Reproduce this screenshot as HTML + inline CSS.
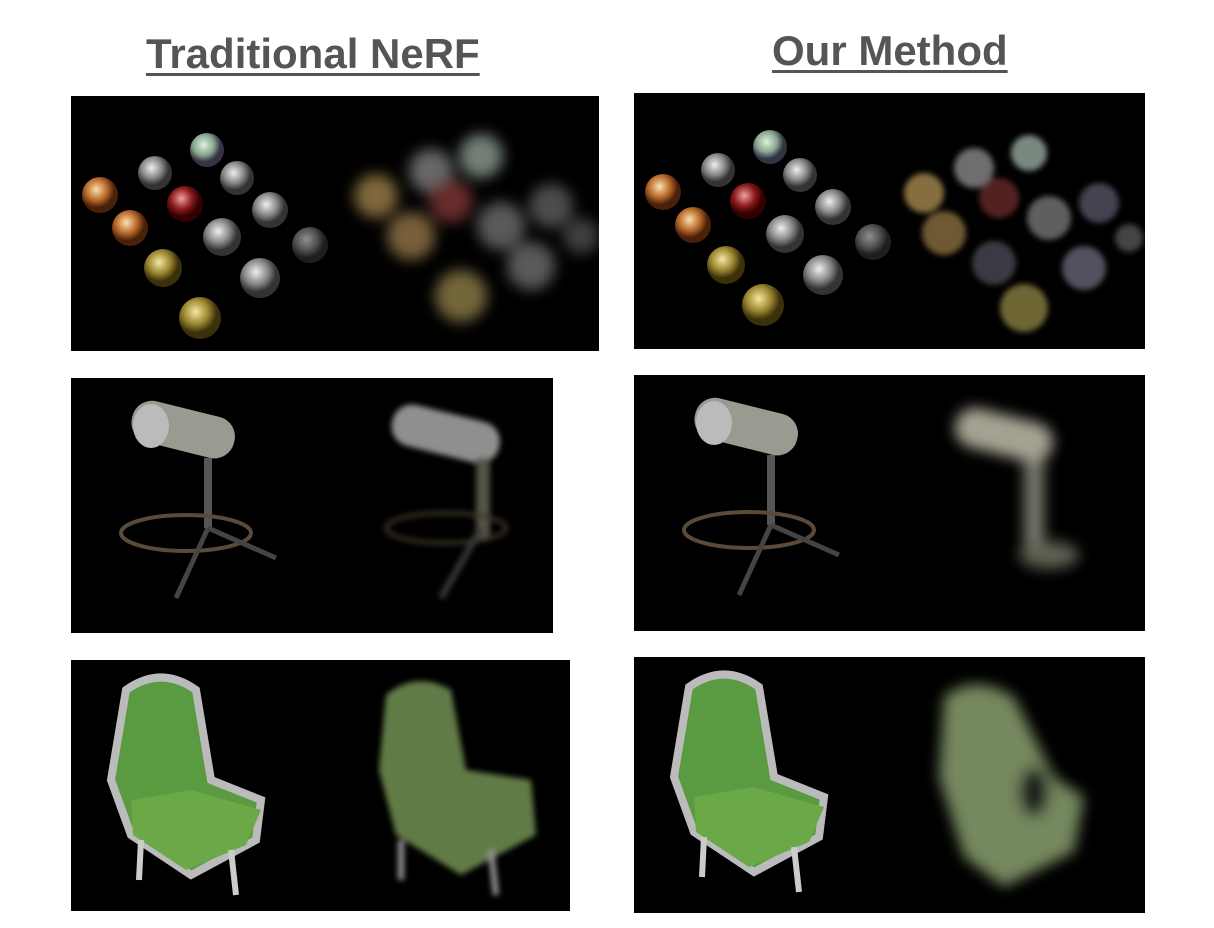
<!DOCTYPE html>
<html><head><meta charset="utf-8">
<style>
body{margin:0;width:1214px;height:928px;background:#fff;overflow:hidden;font-family:"Liberation Sans",sans-serif;position:relative}
.t{position:absolute;font-weight:bold;font-size:42px;color:#555;text-decoration:underline;text-decoration-thickness:3px;text-underline-offset:5px;white-space:nowrap}
.p{position:absolute;background:#000}
svg{display:block}
</style></head><body>
<div class="t" style="left:146px;top:30px">Traditional NeRF</div>
<div class="t" style="left:772px;top:27px">Our Method</div>

<svg width="0" height="0" style="position:absolute">
<defs>
<radialGradient id="gs" cx="40%" cy="35%"><stop offset="0" stop-color="#eee"/><stop offset=".6" stop-color="#888"/><stop offset="1" stop-color="#333"/></radialGradient>
<radialGradient id="gc" cx="40%" cy="35%"><stop offset="0" stop-color="#fde0b0"/><stop offset=".6" stop-color="#b86a2a"/><stop offset="1" stop-color="#4a2008"/></radialGradient>
<radialGradient id="gg" cx="40%" cy="35%"><stop offset="0" stop-color="#f4e8a0"/><stop offset=".6" stop-color="#9a8530"/><stop offset="1" stop-color="#3a300a"/></radialGradient>
<radialGradient id="gr" cx="40%" cy="35%"><stop offset="0" stop-color="#f0a0a0"/><stop offset=".6" stop-color="#8a1a1a"/><stop offset="1" stop-color="#300"/></radialGradient>
<radialGradient id="gn" cx="40%" cy="35%"><stop offset="0" stop-color="#e0f0e0"/><stop offset=".6" stop-color="#8aa890"/><stop offset="1" stop-color="#334"/></radialGradient>
<filter id="bl"><feGaussianBlur stdDeviation="7"/></filter>
<filter id="bl2"><feGaussianBlur stdDeviation="3"/></filter>
</defs></svg>

<div class="p" style="left:71px;top:96px;width:528px;height:255px">
<svg width="528" height="255">
<g>
<circle cx="29" cy="99" r="18" fill="url(#gc)"/><circle cx="84" cy="77" r="17" fill="url(#gs)"/>
<circle cx="136" cy="54" r="17" fill="url(#gn)"/><circle cx="166" cy="82" r="17" fill="url(#gs)"/>
<circle cx="114" cy="108" r="18" fill="url(#gr)"/><circle cx="59" cy="132" r="18" fill="url(#gc)"/>
<circle cx="199" cy="114" r="18" fill="url(#gs)"/><circle cx="151" cy="141" r="19" fill="url(#gs)"/>
<circle cx="239" cy="149" r="18" fill="url(#gs)" opacity=".6"/><circle cx="92" cy="172" r="19" fill="url(#gg)"/>
<circle cx="189" cy="182" r="20" fill="url(#gs)"/><circle cx="129" cy="222" r="21" fill="url(#gg)"/>
</g>
<g filter="url(#bl)" opacity=".75">
<circle cx="305" cy="100" r="22" fill="#a98a50"/><circle cx="360" cy="75" r="22" fill="#8a8a8a"/>
<circle cx="410" cy="60" r="22" fill="#9aaaa0"/><circle cx="380" cy="105" r="22" fill="#8a3a3a"/>
<circle cx="340" cy="140" r="24" fill="#a08050"/><circle cx="430" cy="130" r="24" fill="#777"/>
<circle cx="480" cy="110" r="22" fill="#666"/><circle cx="460" cy="170" r="24" fill="#777"/>
<circle cx="390" cy="200" r="26" fill="#9a8850"/><circle cx="510" cy="140" r="18" fill="#555"/>
</g></svg></div>

<div class="p" style="left:634px;top:93px;width:511px;height:256px">
<svg width="511" height="256">
<g>
<circle cx="29" cy="99" r="18" fill="url(#gc)"/><circle cx="84" cy="77" r="17" fill="url(#gs)"/>
<circle cx="136" cy="54" r="17" fill="url(#gn)"/><circle cx="166" cy="82" r="17" fill="url(#gs)"/>
<circle cx="114" cy="108" r="18" fill="url(#gr)"/><circle cx="59" cy="132" r="18" fill="url(#gc)"/>
<circle cx="199" cy="114" r="18" fill="url(#gs)"/><circle cx="151" cy="141" r="19" fill="url(#gs)"/>
<circle cx="239" cy="149" r="18" fill="url(#gs)" opacity=".6"/><circle cx="92" cy="172" r="19" fill="url(#gg)"/>
<circle cx="189" cy="182" r="20" fill="url(#gs)"/><circle cx="129" cy="212" r="21" fill="url(#gg)"/>
</g>
<g filter="url(#bl2)" opacity=".8">
<circle cx="290" cy="100" r="20" fill="#a98a50"/><circle cx="340" cy="75" r="20" fill="#8a8a8a"/>
<circle cx="395" cy="60" r="18" fill="#9aaaa0"/><circle cx="365" cy="105" r="20" fill="#6a2a2a"/>
<circle cx="310" cy="140" r="22" fill="#8a7040"/><circle cx="415" cy="125" r="22" fill="#777"/>
<circle cx="465" cy="110" r="20" fill="#556"/><circle cx="450" cy="175" r="22" fill="#667"/>
<circle cx="390" cy="215" r="24" fill="#8a8040"/><circle cx="360" cy="170" r="22" fill="#4a4a55"/>
<circle cx="495" cy="145" r="14" fill="#555"/>
</g></svg></div>

<div class="p" style="left:71px;top:378px;width:482px;height:255px">
<svg width="482" height="255">
<g>
<rect x="60" y="30" width="105" height="42" rx="20" fill="#9a9a90" transform="rotate(14 110 50)"/>
<ellipse cx="80" cy="48" rx="18" ry="22" fill="#bbb"/>
<rect x="133" y="80" width="8" height="70" fill="#555"/>
<ellipse cx="115" cy="155" rx="65" ry="18" fill="none" stroke="#5a4a3a" stroke-width="4"/>
<line x1="137" y1="150" x2="105" y2="220" stroke="#444" stroke-width="5"/>
<line x1="137" y1="150" x2="205" y2="180" stroke="#444" stroke-width="5"/>
</g>
<g filter="url(#bl2)" opacity=".7">
<rect x="320" y="35" width="110" height="42" rx="20" fill="#ccc" transform="rotate(14 375 55)"/>
<rect x="405" y="80" width="14" height="80" fill="#776"/>
<ellipse cx="375" cy="150" rx="60" ry="15" fill="none" stroke="#5a4a3a" stroke-width="4"/>
<line x1="410" y1="150" x2="370" y2="220" stroke="#555" stroke-width="6"/>
</g></svg></div>

<div class="p" style="left:634px;top:375px;width:511px;height:256px">
<svg width="511" height="256">
<g>
<rect x="60" y="30" width="105" height="42" rx="20" fill="#9a9a90" transform="rotate(14 110 50)"/>
<ellipse cx="80" cy="48" rx="18" ry="22" fill="#bbb"/>
<rect x="133" y="80" width="8" height="70" fill="#555"/>
<ellipse cx="115" cy="155" rx="65" ry="18" fill="none" stroke="#5a4a3a" stroke-width="4"/>
<line x1="137" y1="150" x2="105" y2="220" stroke="#444" stroke-width="5"/>
<line x1="137" y1="150" x2="205" y2="180" stroke="#444" stroke-width="5"/>
</g>
<g filter="url(#bl)" opacity=".8">
<rect x="320" y="40" width="100" height="40" rx="20" fill="#d0cbb8" transform="rotate(14 370 60)"/>
<rect x="390" y="85" width="20" height="90" fill="#998"/>
<ellipse cx="415" cy="180" rx="30" ry="14" fill="#776"/>
</g></svg></div>

<div class="p" style="left:71px;top:660px;width:499px;height:251px">
<svg width="499" height="251">
<g>
<path d="M55 30 Q90 5 125 30 L140 120 L190 140 L185 180 L120 215 L60 175 L40 120 Z" fill="#5a9a40" stroke="#bbb" stroke-width="8"/>
<path d="M60 140 L120 130 L190 150 L175 185 L115 210 L62 175 Z" fill="#6aa848"/>
<line x1="70" y1="180" x2="68" y2="220" stroke="#ccc" stroke-width="6"/>
<line x1="160" y1="190" x2="165" y2="235" stroke="#ccc" stroke-width="6"/>
</g>
<g filter="url(#bl2)" opacity=".8">
<path d="M315 35 Q345 10 380 30 L395 110 L460 120 L465 175 L390 215 L325 175 L308 110 Z" fill="#7a9a58"/>
<line x1="330" y1="180" x2="330" y2="220" stroke="#bbb" stroke-width="6"/>
<line x1="420" y1="190" x2="425" y2="235" stroke="#bbb" stroke-width="6"/>
</g></svg></div>

<div class="p" style="left:634px;top:657px;width:511px;height:256px">
<svg width="511" height="256">
<g>
<path d="M55 30 Q90 5 125 30 L140 120 L190 140 L185 180 L120 215 L60 175 L40 120 Z" fill="#5a9a40" stroke="#bbb" stroke-width="8"/>
<path d="M60 140 L120 130 L190 150 L175 185 L115 210 L62 175 Z" fill="#6aa848"/>
<line x1="70" y1="180" x2="68" y2="220" stroke="#ccc" stroke-width="6"/>
<line x1="160" y1="190" x2="165" y2="235" stroke="#ccc" stroke-width="6"/>
</g>
<g filter="url(#bl)" opacity=".85">
<path d="M310 40 Q340 15 380 40 L420 120 L450 140 L440 195 L370 230 L330 200 L305 120 Z" fill="#8aa070"/>
<ellipse cx="400" cy="135" rx="15" ry="25" fill="#222"/>
</g></svg></div>
</body></html>
